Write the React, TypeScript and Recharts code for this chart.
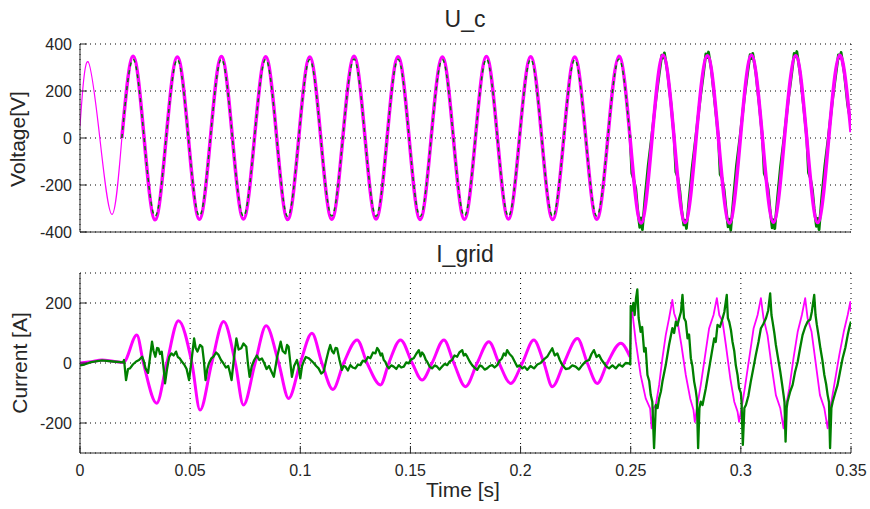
import React from 'react';
import { LineChart, Line, XAxis, YAxis, CartesianGrid } from 'recharts';

type Pt = [number, number];

const timeTicks = [0, 0.05, 0.1, 0.15, 0.2, 0.25, 0.3, 0.35];
const voltageTicks = [-400, -200, 0, 200, 400];
const currentTicks = [-200, 0, 200];

// U_c, magenta, first (unloaded) cycle
const uMagStart: Pt[] = [[0, 50], [0.0036, 325], [0.009, 0], [0.0145, -325], [0.019, 0]];

// U_c, magenta, peaks / zero crossings / troughs
const uMag: Pt[] = [
  [0.019, 0],
  [0.0241, 348], [0.0291, 0], [0.0341, -348], [0.0391, 0],
  [0.0442, 345], [0.0492, 0], [0.0542, -346], [0.0592, 0],
  [0.0642, 347], [0.0692, 0], [0.0742, -345], [0.0792, 0],
  [0.0843, 346], [0.0893, 0], [0.0943, -347], [0.0993, 0],
  [0.1043, 345], [0.1093, 0], [0.1143, -346], [0.1193, 0],
  [0.1244, 348], [0.1294, 0], [0.1344, -345], [0.1394, 0],
  [0.1444, 346], [0.1494, 0], [0.1544, -347], [0.1594, 0],
  [0.1645, 345], [0.1695, 0], [0.1745, -346], [0.1795, 0],
  [0.1845, 347], [0.1895, 0], [0.1945, -345], [0.1995, 0],
  [0.2046, 346], [0.2096, 0], [0.2146, -347], [0.2196, 0],
  [0.2246, 345], [0.2296, 0], [0.2346, -346], [0.2396, 0],
  [0.2447, 348], [0.2497, 0], [0.2547, -362], [0.2597, 0],
  [0.2647, 352], [0.2697, 0], [0.2747, -360], [0.2797, 0],
  [0.2848, 350], [0.2898, 0], [0.2948, -362], [0.2998, 0],
  [0.3048, 352], [0.3098, 0], [0.3148, -358], [0.3198, 0],
  [0.3249, 350], [0.3299, 0], [0.3349, -360], [0.3399, 0],
  [0.3449, 352], [0.35, 25],
];

// U_c, green, before the step
const uGreen: Pt[] = [
  [0.019, 0],
  [0.0241, 335], [0.0291, 0], [0.0341, -333], [0.0391, 0],
  [0.0442, 334], [0.0492, 0], [0.0542, -332], [0.0592, 0],
  [0.0642, 336], [0.0692, 0], [0.0742, -333], [0.0792, 0],
  [0.0843, 335], [0.0893, 0], [0.0943, -334], [0.0993, 0],
  [0.1043, 334], [0.1093, 0], [0.1143, -332], [0.1193, 0],
  [0.1244, 336], [0.1294, 0], [0.1344, -333], [0.1394, 0],
  [0.1444, 335], [0.1494, 0], [0.1544, -334], [0.1594, 0],
  [0.1645, 334], [0.1695, 0], [0.1745, -332], [0.1795, 0],
  [0.1845, 336], [0.1895, 0], [0.1945, -333], [0.1995, 0],
  [0.2046, 335], [0.2096, 0], [0.2146, -334], [0.2196, 0],
  [0.2246, 334], [0.2296, 0], [0.2346, -332], [0.2396, 0],
  [0.2447, 336], [0.2497, 0],
];

// U_c, green, after the step at 0.25 s (notched troughs)
const uGreenLate: Pt[] = [
  [0.2497, 10], [0.2505, -150], [0.2513, -175], [0.2523, -215], [0.2531, -300], [0.2541, -380],
  [0.2547, -340], [0.2553, -390], [0.2565, -255], [0.2579, -120], [0.2595, 5], [0.2615, 170],
  [0.2629, 270], [0.2641, 352], [0.2647, 340], [0.2653, 362], [0.2667, 280], [0.2683, 145],
  [0.2697, 0], [0.2705, -145], [0.2713, -165], [0.2723, -225], [0.2731, -305], [0.2741, -370],
  [0.2747, -350], [0.2753, -385], [0.2765, -260], [0.2779, -125], [0.2795, 0], [0.2815, 165],
  [0.2829, 265], [0.2841, 358], [0.2847, 342], [0.2853, 366], [0.2867, 285], [0.2883, 140],
  [0.2898, 5], [0.2906, -155], [0.2914, -170], [0.2924, -220], [0.2932, -295], [0.2942, -378],
  [0.2948, -345], [0.2954, -392], [0.2966, -262], [0.298, -118], [0.2996, 3], [0.3016, 172],
  [0.303, 272], [0.3042, 355], [0.3048, 338], [0.3054, 360], [0.3068, 278], [0.3084, 138],
  [0.3098, 0], [0.3106, -150], [0.3114, -172], [0.3124, -218], [0.3132, -300], [0.3142, -382],
  [0.3148, -348], [0.3154, -386], [0.3166, -258], [0.318, -122], [0.3196, 0], [0.3216, 168],
  [0.323, 268], [0.3242, 360], [0.3248, 345], [0.3254, 368], [0.3268, 282], [0.3284, 142],
  [0.3299, 3], [0.3307, -148], [0.3315, -168], [0.3325, -222], [0.3333, -302], [0.3343, -376],
  [0.3349, -342], [0.3355, -390], [0.3367, -256], [0.3381, -120], [0.3397, 2], [0.3417, 170],
  [0.3431, 270], [0.3443, 354], [0.3449, 340], [0.3455, 364], [0.3469, 280], [0.3485, 140],
  [0.35, 60],
];

// I_grid, magenta, up to the step
const iMag: Pt[] = [
  [0, 0], [0.005, 4], [0.01, 10], [0.015, 6], [0.0197, 2],
  [0.0258, 93], [0.0288, 0], [0.0348, -134], [0.0394, 0],
  [0.0447, 141], [0.0508, 0], [0.0545, -157], [0.0598, 0],
  [0.0652, 138], [0.0705, 0], [0.0742, -140], [0.0795, 0],
  [0.0845, 124], [0.0902, 0], [0.0947, -118], [0.1, 0],
  [0.1053, 99], [0.1098, 0], [0.1148, -88], [0.1197, 0],
  [0.1258, 77], [0.1303, 0], [0.1364, -73], [0.1402, 0],
  [0.1455, 77], [0.1508, 0], [0.1553, -57], [0.1598, 0],
  [0.1652, 77], [0.1697, 0], [0.175, -79], [0.1803, 0],
  [0.1856, 71], [0.1902, 0], [0.1955, -68], [0.2008, 0],
  [0.206, 77], [0.2106, 0], [0.2144, -79], [0.2197, 0],
  [0.2258, 82], [0.2303, 0], [0.2348, -68], [0.2394, 0],
  [0.2455, 66], [0.2497, 20],
];

// I_grid, magenta, after the step
const iMagLate: Pt[] = [
  [0.2497, 20], [0.2503, 182], [0.2509, 160], [0.2523, 71], [0.2545, -40], [0.2568, -118],
  [0.2588, -151], [0.2595, -218], [0.2603, -151], [0.2614, -140], [0.2629, -73], [0.2644, 16],
  [0.2659, 93], [0.2674, 149], [0.2689, 210], [0.2697, 166], [0.2715, 127], [0.273, 60],
  [0.275, -40], [0.277, -118], [0.2785, -157], [0.2791, -196], [0.28, -151], [0.2818, -73],
  [0.2836, 16], [0.2856, 116], [0.2876, 160], [0.2891, 216], [0.2902, 160], [0.2917, 138],
  [0.2932, 60], [0.2952, -51], [0.297, -129], [0.2985, -162], [0.2992, -196], [0.3003, -151],
  [0.3018, -84], [0.3038, 16], [0.3058, 116], [0.3076, 160], [0.3091, 216], [0.3103, 149],
  [0.3121, 93], [0.3139, -7], [0.3159, -107], [0.3179, -151], [0.3194, -218], [0.3203, -151],
  [0.322, -84], [0.3239, 16], [0.3258, 104], [0.3277, 160], [0.3292, 216], [0.3303, 149],
  [0.3321, 104], [0.3341, -7], [0.3359, -107], [0.3379, -151], [0.3394, -218], [0.3406, -151],
  [0.3424, -73], [0.3447, 27], [0.3467, 104], [0.3485, 160], [0.3497, 204], [0.35, 171],
];

// I_grid, green
const iGreen: Pt[] = [
  [0, -8], [0.002, -5], [0.005, 3], [0.01, 9], [0.015, 5], [0.0195, 2],
  [0.02, 10], [0.0209, -57], [0.0218, -20], [0.0227, -18], [0.024, -5], [0.0255, 5], [0.0268, 10], [0.0282, 21], [0.029, 5], [0.0297, -17],
  [0.0309, -33], [0.0318, 20], [0.0327, 71], [0.0334, 40], [0.0342, 21], [0.035, 50], [0.0356, 49], [0.0363, 30], [0.0371, 38], [0.038, -20],
  [0.0386, -68], [0.0395, -20], [0.0405, 20], [0.0415, 32], [0.0425, 25], [0.0436, 38], [0.0444, 20], [0.0452, 16], [0.0462, 5], [0.0473, -5],
  [0.0484, -20], [0.0495, -57], [0.0505, 0], [0.0518, 82], [0.0525, 50], [0.0533, 38], [0.0545, 60], [0.0555, 54], [0.0562, 10], [0.057, -57],
  [0.0578, -20], [0.0585, -2], [0.0596, 15], [0.0606, 21], [0.0618, 35], [0.0629, 27], [0.064, 10], [0.065, 0], [0.0662, -15], [0.0673, -10],
  [0.068, -30], [0.0688, -57], [0.0698, 10], [0.071, 82], [0.072, 45], [0.0732, 49], [0.0742, 65], [0.0755, 54], [0.0762, 0], [0.077, -46],
  [0.078, -10], [0.0791, 10], [0.0803, 25], [0.0814, 10], [0.0826, 15], [0.0836, 0], [0.0847, -20], [0.0858, -10], [0.087, -30], [0.088, -46],
  [0.0895, 20], [0.0911, 71], [0.092, 40], [0.0932, 32], [0.094, 60], [0.0947, 54], [0.0955, 0], [0.0962, -46], [0.0972, -10], [0.0985, 10],
  [0.0993, -15], [0.1, -51], [0.1008, -10], [0.1015, 4], [0.1025, 20], [0.1038, 16], [0.105, 8], [0.1061, 0], [0.1072, -10], [0.1083, -18],
  [0.1095, -35], [0.1106, -29], [0.1118, 10], [0.1129, 43], [0.1136, 60], [0.1144, 40], [0.1152, 32], [0.116, 50], [0.1167, 49], [0.1178, 10],
  [0.1189, -23], [0.1197, -10], [0.1205, -12], [0.1216, -25], [0.1227, -7], [0.1238, -15], [0.125, -18], [0.1262, -5], [0.1273, -7], [0.1284, 8],
  [0.1295, 4], [0.1307, 20], [0.1318, 16], [0.133, 35], [0.1341, 32], [0.1349, 50], [0.1356, 43], [0.1365, 25], [0.1371, 32], [0.1379, 10],
  [0.1386, 4], [0.1394, -10], [0.1402, -18], [0.1413, -8], [0.1424, -12], [0.1436, -20], [0.1447, -7], [0.1458, -15], [0.147, -12], [0.1481, 2],
  [0.1492, -1], [0.1503, 12], [0.1515, 16], [0.1526, 30], [0.1538, 43], [0.1546, 22], [0.1553, 35], [0.1561, 27], [0.157, 10], [0.1576, 4],
  [0.1587, -12], [0.1598, -18], [0.161, -8], [0.1621, -12], [0.1632, -22], [0.1644, -12], [0.1655, -3], [0.1667, -7], [0.1678, 5], [0.1689, 10],
  [0.17, 25], [0.1712, 21], [0.1722, 35], [0.1735, 43], [0.1742, 25], [0.175, 30], [0.1758, 21], [0.1769, 5], [0.178, -7], [0.179, -15],
  [0.1803, -23], [0.1815, -8], [0.1826, -12], [0.1837, -22], [0.1848, -18], [0.186, -10], [0.1871, -7], [0.1882, -15], [0.1894, -7], [0.1905, 8],
  [0.1915, 15], [0.1924, 32], [0.1932, 25], [0.1939, 43], [0.195, 30], [0.1962, 21], [0.1973, 5], [0.1985, -12], [0.1996, -8], [0.2008, -18],
  [0.2018, -12], [0.203, -23], [0.2045, -10], [0.2061, -18], [0.2076, -5], [0.2091, 0], [0.2106, 12], [0.2121, 21], [0.2132, 35], [0.2144, 49],
  [0.2155, 25], [0.2167, 32], [0.2178, 10], [0.219, -7], [0.2205, -20], [0.222, -18], [0.2235, -8], [0.225, -12], [0.2265, -22], [0.228, -7],
  [0.2295, 5], [0.2311, 10], [0.2322, 30], [0.2333, 43], [0.2345, 20], [0.2356, 27], [0.2368, 10], [0.2379, -1], [0.239, -12], [0.2402, -18],
  [0.2417, -8], [0.2432, -18], [0.2447, -5], [0.2462, -12], [0.2477, 0], [0.2492, -1], [0.2498, -5],
  [0.25, 190], [0.2508, 175], [0.2512, 200], [0.2518, 160], [0.2524, 215], [0.253, 245], [0.2536, 150], [0.2545, 104],
  [0.2552, 120], [0.2561, 38], [0.2568, 50], [0.2576, -40], [0.2584, -60], [0.2591, -107], [0.2598, -129], [0.2606, -284],
  [0.2614, -140], [0.2622, -150], [0.2629, -118], [0.2637, -95], [0.2644, -62], [0.2659, -7], [0.2674, 60], [0.2689, 116],
  [0.2697, 100], [0.2705, 138], [0.2712, 125], [0.272, 149], [0.2728, 170], [0.2735, 227], [0.2742, 150], [0.275, 138],
  [0.2758, 82], [0.2765, 95], [0.2773, 16], [0.278, -10], [0.2788, -62], [0.2795, -90], [0.28, -118], [0.2806, -284],
  [0.2812, -150], [0.2818, -129], [0.2826, -140], [0.2841, -84], [0.2856, -18], [0.2867, 30], [0.2879, 82], [0.2886, 70],
  [0.2894, 127], [0.2905, 120], [0.2917, 149], [0.2925, 170], [0.2936, 227], [0.2941, 150], [0.2947, 138], [0.2955, 110],
  [0.2962, 71], [0.297, 40], [0.2977, -7], [0.2985, -40], [0.2992, -84], [0.3, -100], [0.3003, -129], [0.3009, -273],
  [0.3016, -150], [0.3023, -140], [0.3034, -110], [0.3045, -62], [0.3056, -20], [0.3068, 27], [0.308, 70], [0.3091, 116],
  [0.3102, 130], [0.3114, 149], [0.3124, 175], [0.3133, 232], [0.3139, 160], [0.3144, 138], [0.3152, 100], [0.3159, 60],
  [0.3168, 20], [0.3179, -29], [0.3187, -70], [0.3194, -107], [0.3198, -130], [0.3203, -262], [0.3208, -150], [0.3212, -129],
  [0.3224, -95], [0.3235, -73], [0.3246, -30], [0.3258, 4], [0.3269, 50], [0.328, 93], [0.3292, 120], [0.3303, 138],
  [0.3315, 145], [0.3322, 170], [0.3333, 227], [0.3339, 160], [0.3345, 127], [0.3353, 90], [0.3361, 49], [0.337, 10],
  [0.3379, -40], [0.3387, -70], [0.3394, -107], [0.34, -130], [0.3405, -284], [0.3411, -150], [0.3417, -129], [0.3428, -100],
  [0.3439, -73], [0.345, -30], [0.3462, 16], [0.3474, 50], [0.3485, 93], [0.3493, 120], [0.35, 138],
];

const toRows = (pts: Pt[]) => pts.map(([t, v]) => ({ t, v }));

const FONT = '"Liberation Sans", Arial, Helvetica, sans-serif';
const INK = '#262626';
const MAGENTA = '#ff00ff';
const GREEN = '#008000';
const tickStyle = { fill: INK, fontSize: 16, fontFamily: FONT };

const common = { dataKey: 'v', dot: false, activeDot: false, isAnimationActive: false, strokeLinejoin: 'round' as const };

export default function App() {
  return (
    <div style={{ position: 'absolute', left: 0, top: 0, width: 870, height: 509, background: '#fff', fontFamily: FONT }}>
      <div style={{ position: 'absolute', left: 0, top: 0 }}>
        <LineChart width={870} height={240} margin={{ top: 44, right: 19, bottom: 0, left: 0 }}>
          <CartesianGrid stroke="#000" strokeDasharray="1 4" />
          <XAxis dataKey="t" type="number" domain={[0, 0.35]} ticks={timeTicks} tick={false} tickSize={-7} height={8} stroke={INK} allowDataOverflow />
          <XAxis xAxisId="top" orientation="top" dataKey="t" type="number" domain={[0, 0.35]} ticks={timeTicks} tick={false} tickSize={-7} height={0} stroke={INK} />
          <YAxis type="number" domain={[-400, 400]} ticks={voltageTicks} interval={0} tickSize={-7} tickMargin={15} width={80} tick={tickStyle} stroke={INK} allowDataOverflow />
          <YAxis yAxisId="right" orientation="right" type="number" domain={[-400, 400]} ticks={voltageTicks} tick={false} tickSize={-7} width={0} stroke={INK} />
          <Line data={toRows(uGreenLate)} type="linear" stroke={GREEN} strokeWidth={2.8} {...common} />
          <Line data={toRows(uMagStart)} type="natural" stroke={MAGENTA} strokeWidth={1.2} {...common} />
          <Line data={toRows(uMag)} type="natural" stroke={MAGENTA} strokeWidth={3.5} {...common} />
          <Line data={toRows(uGreen)} type="natural" stroke={GREEN} strokeWidth={1.5} strokeDasharray="4 4" {...common} />
        </LineChart>
      </div>
      <div style={{ position: 'absolute', left: 0, top: 250 }}>
        <LineChart width={870} height={259} margin={{ top: 23, right: 19, bottom: 0, left: 0 }}>
          <CartesianGrid stroke="#000" strokeDasharray="1 4" />
          <XAxis dataKey="t" type="number" domain={[0, 0.35]} ticks={timeTicks} interval={0} tickSize={-7} tickMargin={19} height={56} tick={tickStyle} stroke={INK} allowDataOverflow />
          <XAxis xAxisId="top" orientation="top" dataKey="t" type="number" domain={[0, 0.35]} ticks={timeTicks} tick={false} tickSize={-7} height={0} stroke={INK} />
          <YAxis type="number" domain={[-300, 300]} ticks={currentTicks} interval={0} tickSize={-7} tickMargin={15} width={80} tick={tickStyle} stroke={INK} allowDataOverflow />
          <YAxis yAxisId="right" orientation="right" type="number" domain={[-300, 300]} ticks={currentTicks} tick={false} tickSize={-7} width={0} stroke={INK} />
          <Line data={toRows(iMag)} type="monotone" stroke={MAGENTA} strokeWidth={3} {...common} />
          <Line data={toRows(iMagLate)} type="linear" stroke={MAGENTA} strokeWidth={1.8} {...common} />
          <Line data={toRows(iGreen)} type="linear" stroke={GREEN} strokeWidth={2.3} {...common} />
        </LineChart>
      </div>
      <svg width={870} height={509} style={{ position: 'absolute', left: 0, top: 0, pointerEvents: 'none' }} fontFamily={FONT} fill={INK}>
        <text x={465} y={27} textAnchor="middle" fontSize={23}>U_c</text>
        <text x={465} y={262} textAnchor="middle" fontSize={23}>I_grid</text>
        <text x={463} y={497} textAnchor="middle" fontSize={21}>Time [s]</text>
        <text transform="translate(25,139) rotate(-90)" textAnchor="middle" fontSize={21}>Voltage[V]</text>
        <text transform="translate(27,363) rotate(-90)" textAnchor="middle" fontSize={21}>Current [A]</text>
      </svg>
    </div>
  );
}
